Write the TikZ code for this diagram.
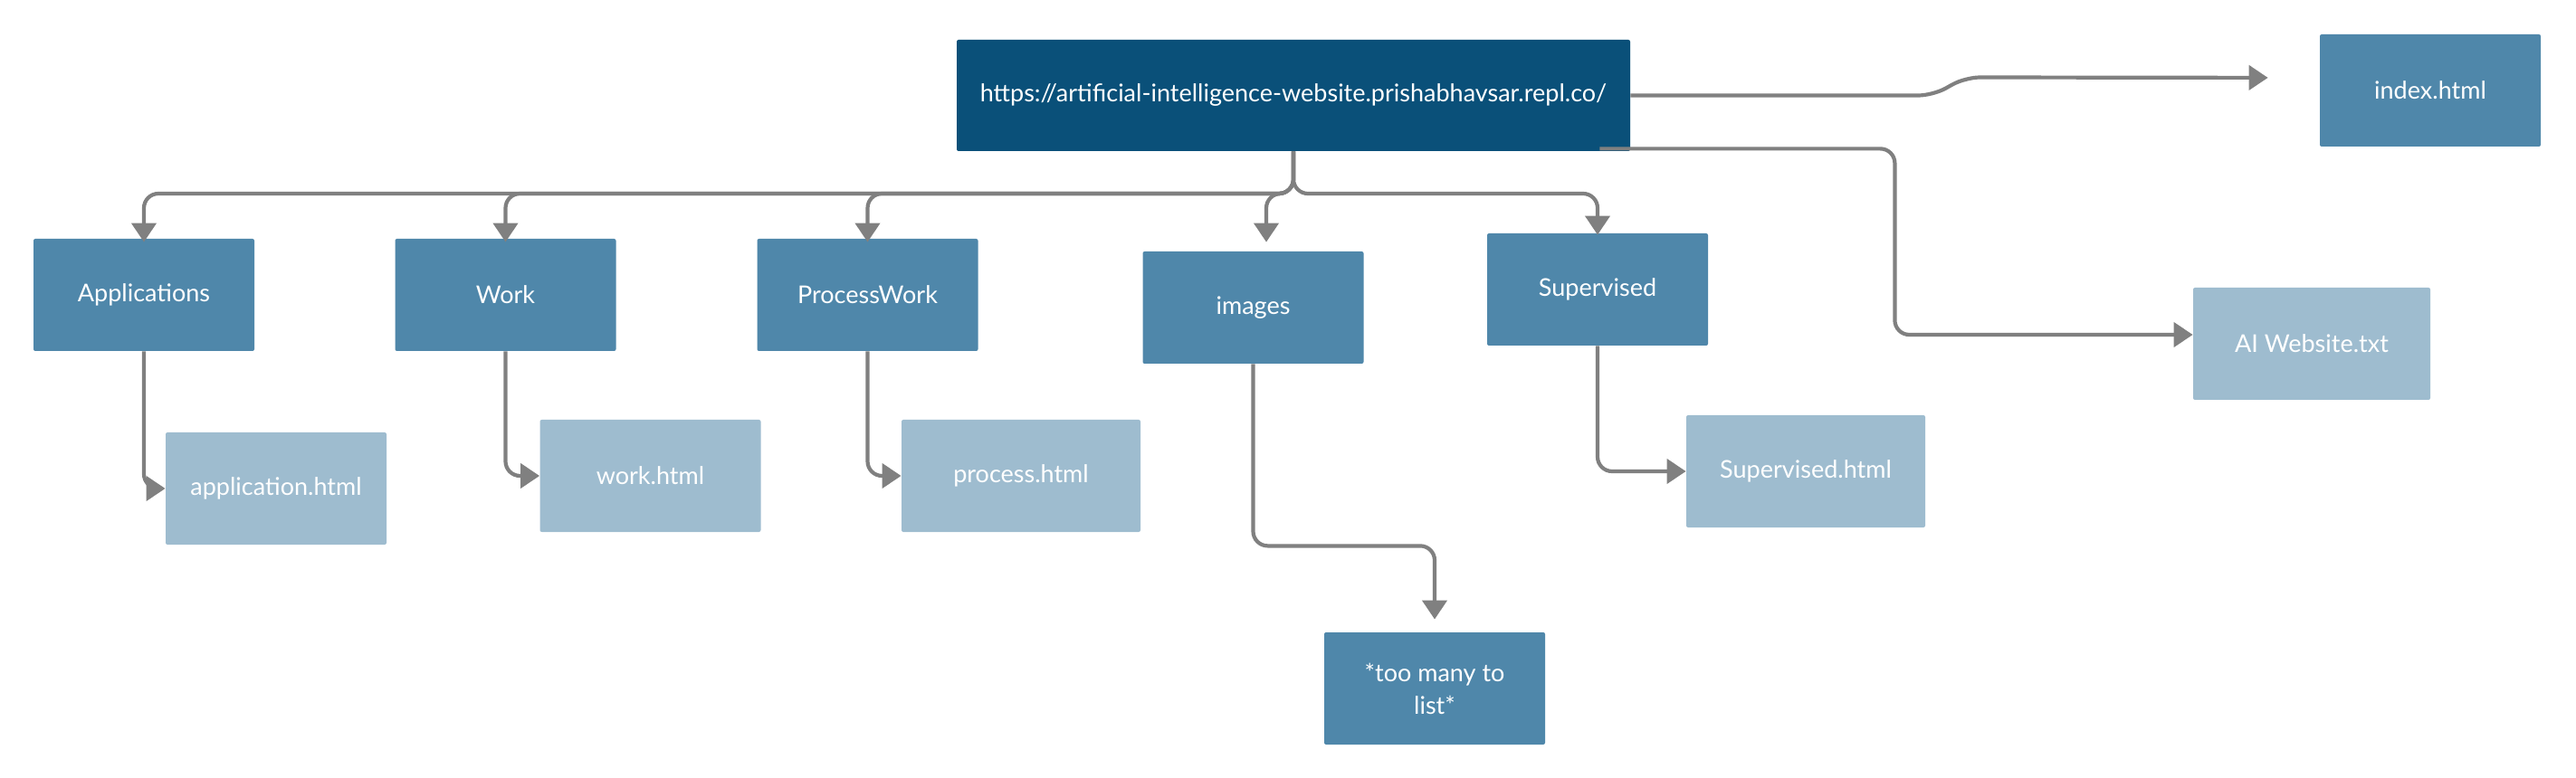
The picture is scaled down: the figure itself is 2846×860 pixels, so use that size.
\documentclass[tikz,border=0pt]{standalone}
\usepackage{fontspec}
\setmainfont{Lato}
\usetikzlibrary{arrows.meta,positioning,calc}
\definecolor{rootblue}{RGB}{10,80,121}
\definecolor{dirblue}{RGB}{79,135,170}
\definecolor{fileblue}{RGB}{158,188,207}
\definecolor{linkgray}{RGB}{128,128,128}
\tikzset{
    root/.style={
        rectangle,
        rounded corners=1pt,
        fill=rootblue,
        text=white,
        minimum width=372pt,
        minimum height=61.5pt,
    },
    dir/.style={
        rectangle,
        rounded corners=1pt,
        fill=dirblue,
        text=white,
        align=center,
        minimum width=122pt,
        minimum height=62pt,
    },
    file/.style={
        rectangle,
        rounded corners=1pt,
        fill=fileblue,
        text=white,
        minimum width=122pt,
        minimum height=62pt,
    },
    link/.style={
        draw=linkgray,
        line width=2.1pt,
        rounded corners=8pt,
        -{Triangle[length=10.5pt,width=13.5pt]},
    },
    every node/.style={font=\fontsize{13.5}{18}\selectfont},
  }

\begin{document}
\begin{tikzpicture}[x=0.5pt,y=-0.5pt]
  \useasboundingbox (0,0) rectangle (2846,860);

  \node [root] (site) at (1429,105.5) {https://artificial-intelligence-website.prishabhavsar.repl.co/};
  \node [dir] (index) at (2685,100) {index.html};

  \node [dir] (apps) at (159,326) {Applications};
  \node [dir] (work) at (558.5,326) {Work};
  \node [dir] (procw) at (958.5,326) {ProcessWork};
  \node [dir] (images) at (1384.5,340) {images};
  \node [dir] (superv) at (1765,320) {Supervised};
  \node [file,minimum width=131pt] (aitxt) at (2554,380) {AI Website.txt};

  \node [file] (apphtml) at (305,540) {application.html};
  \node [file] (workhtml) at (718.5,526) {work.html};
  \node [file,minimum width=132pt] (prochtml) at (1128,526) {process.html};
  \node [file,minimum width=132pt] (suphtml) at (1995,521) {Supervised.html};
  \node [dir] (toomany) at (1585,761) {*too many to\\list*};

  \coordinate (split) at (1429,214);

  \draw [link,shorten >=28.5pt] (site.east) -- ++(334,0) -- ++(36,-20) -- ($(index.west)+(0,-14)$);
  \draw [link] ($(site.south east)+(-34,-3)$) -- ++(326,0) |- ($(aitxt.west)+(0,-10)$);

  \draw [link,shorten >=-2pt] (site.south) -- (split) -| (apps.north);
  \draw [link,shorten >=-2pt] (site.south) -- (split) -| (work.north);
  \draw [link,shorten >=-2pt] (site.south) -- (split) -| (procw.north);
  \draw [link,shorten >=5pt] (site.south) -- (split) -| ($(images.north)+(14.5,0)$);
  \draw [link,shorten >=-1pt] (site.south) -- (split) -| (superv.north);

  \draw [link] (apps.south) |- (apphtml.west);
  \draw [link] (work.south) |- (workhtml.west);
  \draw [link] (procw.south) |- (prochtml.west);
  \draw [link] (superv.south) |- (suphtml.west);
  \draw [link,shorten >=7pt] (images.south) -- ++(0,201) -| (toomany.north);
\end{tikzpicture}
\end{document}
